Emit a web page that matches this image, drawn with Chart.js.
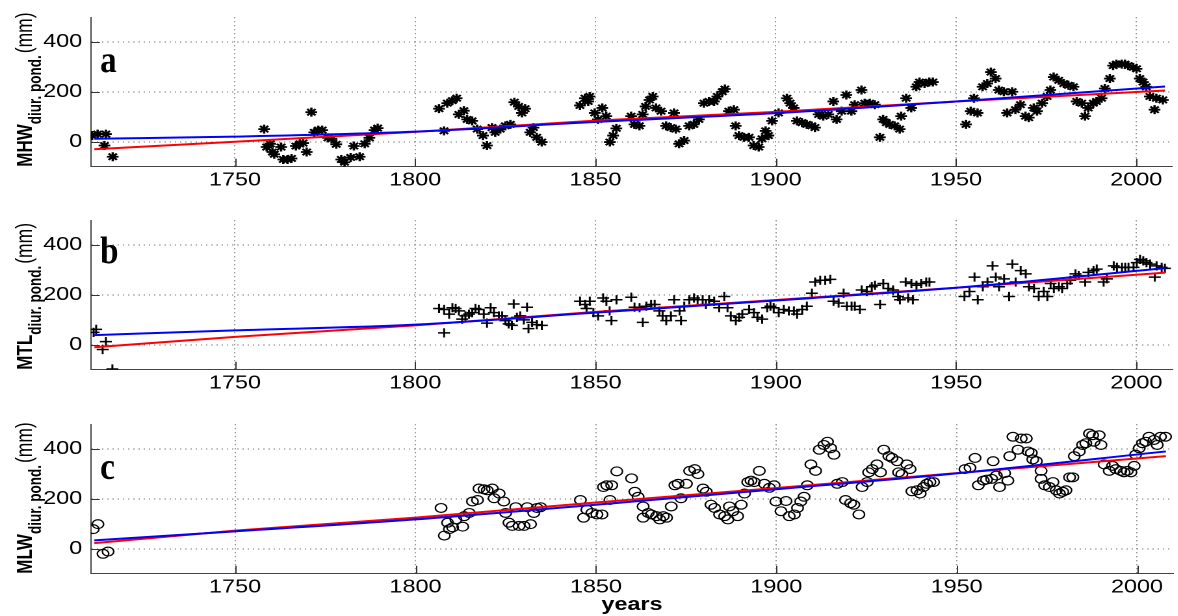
<!DOCTYPE html>
<html>
<head>
<meta charset="utf-8">
<title>MHW / MTL / MLW trends</title>
<script src="https://cdn.jsdelivr.net/npm/chart.js@4.4.0/dist/chart.umd.min.js"></script>
<style>
  body { margin: 0; background: #fff; }
  #wrap { position: relative; width: 1178px; height: 616px; overflow: hidden; }
  /* the original figure is stretched sideways, so each canvas is too */
  #wrap canvas { position: absolute; left: 0; transform: scaleX(1.3); transform-origin: 0 0; }
</style>
</head>
<body>
<div id="wrap">
  <canvas id="panelA" width="908" height="200" style="top:0px"></canvas>
  <canvas id="panelB" width="908" height="200" style="top:203px"></canvas>
  <canvas id="panelC" width="908" height="209" style="top:407px"></canvas>
</div>
<script>
/* axis ticks */
var xTicks = [1750, 1800, 1850, 1900, 1950, 2000];
var yTicks = [0, 200, 400];

/* years where the two fitted curves were read */
var fitYears = [1711, 1750, 1800, 1850, 1900, 1950, 2008];

/* a: MHW */
var mhwYears = [1710.4, 1711.9, 1713.8, 1714.2, 1716.1,
  1758.1, 1758.8, 1759.8, 1760.4, 1760.9, 1762.8, 1763.4, 1764.6, 1765.7, 1766.9, 1768.0, 1768.9, 1769.9,
  1771.2, 1772.0, 1773.1, 1774.2, 1775.8, 1776.8, 1778.1, 1779.5, 1780.4, 1782.1, 1783.0, 1784.6, 1786.0,
  1787.3, 1788.7, 1789.6,
  1806.6, 1808.0, 1808.9, 1810.3, 1811.5, 1812.1, 1813.5, 1814.4, 1815.8, 1817.2, 1818.8, 1819.9, 1821.3,
  1822.2, 1823.6, 1825.0, 1826.4, 1827.5, 1828.7, 1829.6, 1830.5, 1831.9, 1832.8, 1833.7, 1835.1,
  1845.7, 1847.1, 1848.0, 1848.4, 1849.8, 1850.7, 1851.9, 1853.0, 1854.0, 1854.9, 1855.8, 1859.9, 1860.8,
  1862.2, 1863.1, 1863.9, 1865.0, 1865.9, 1866.8, 1868.2, 1869.6, 1870.9, 1871.8, 1872.3, 1873.2, 1874.6,
  1876.0, 1877.3, 1878.7, 1880.1, 1881.5, 1882.9, 1883.8, 1885.2, 1885.9, 1887.0, 1888.4, 1888.9, 1889.8,
  1891.2, 1892.6, 1893.9, 1895.3, 1896.2, 1897.2, 1898.0, 1899.0,
  1900.8, 1903.1, 1904.0, 1905.0, 1905.9, 1907.3, 1908.6, 1910.0, 1910.9, 1911.9, 1913.2, 1914.6, 1916.0,
  1916.9, 1918.3, 1919.6, 1921.0, 1921.9, 1923.8, 1924.7, 1926.1, 1927.5, 1928.9, 1929.8, 1930.7, 1931.6,
  1933.0, 1934.4, 1934.8, 1936.2, 1937.6, 1939.0, 1939.9, 1941.3, 1942.6, 1943.6,
  1952.8, 1954.1, 1955.0, 1956.0, 1957.4, 1958.7, 1959.7, 1961.0, 1961.9, 1963.3, 1964.2, 1965.6, 1966.5,
  1967.9, 1969.3, 1970.2, 1971.6, 1972.5, 1973.9, 1975.3, 1976.2, 1977.1, 1978.5, 1979.9, 1981.2, 1982.6,
  1983.5, 1984.9, 1985.8, 1986.7, 1988.1, 1989.0, 1990.4, 1991.3, 1992.7, 1993.6, 1994.5, 1996.0, 1996.9,
  1997.8, 1999.2, 2000.1, 2001.0, 2001.9, 2002.8, 2003.8, 2005.1, 2005.6, 2007.4];
var mhwValues = [25, 31, -15, 31, -60,
  51, -21, -8, -41, -50, -21, -71, -71, -67, -17, -8, -5, -41,
  119, 38, 47, 47, 16, 12, -10, -71, -82, -63, -17, -60, -8,
  16, 47, 55,
  133, 44, 155, 165, 175, 110, 125, 90, 84, 51, 25, -15, 57,
  38, 51, 64, 70, 159, 142, 116, 133, 38, 57, 18, -1,
  146, 175, 162, 182, 116, 90, 136, 103, -1, 25, 54, 103, 70,
  64, 110, 142, 168, 182, 136, 123, 64, 57, 116, 51, -8, 5,
  64, 70, 90, 155, 162, 162, 182, 201, 212, 123, 129, 64, 25,
  18, 18, -15, -21, 12, 44, 25, 84,
  116, 175, 155, 136, 84, 77, 70, 64, 57, 110, 103, 110, 162,
  90, 123, 188, 123, 149, 208, 155, 155, 149, 18, 90, 77, 70,
  64, 51, 103, 175, 136, 221, 240, 234, 240, 240,
  70, 123, 175, 116, 221, 234, 280, 254, 208, 201, 116, 201, 129,
  149, 103, 97, 136, 123, 155, 182, 208, 260, 247, 234, 227, 221,
  162, 155, 103, 136, 155, 162, 175, 214, 254, 306, 312, 312, 312,
  306, 299, 293, 254, 240, 221, 182, 129, 175, 168];
var mhwLinear = [-30, 0, 40, 85, 120, 162, 206];
var mhwQuad = [12, 21, 41, 80, 115, 162, 222];

/* b: MTL */
var mtlYears = [1710.8, 1711.5, 1713.3, 1714.2, 1716.0,
  1806.6, 1808.0, 1808.0, 1809.4, 1810.3, 1811.2, 1812.1, 1813.0, 1813.9, 1814.9, 1815.8, 1816.7, 1817.6,
  1819.0, 1819.9, 1820.9, 1821.8, 1823.2, 1824.1, 1825.0, 1825.9, 1826.8, 1827.3, 1828.2, 1829.1, 1830.1,
  1831.0, 1831.4, 1832.4, 1833.7, 1835.1,
  1845.7, 1847.1, 1847.5, 1848.4, 1849.4, 1850.7, 1852.1, 1853.0, 1853.9, 1854.4, 1855.8, 1859.9, 1860.8,
  1862.2, 1863.1, 1864.1, 1865.4, 1866.4, 1867.7, 1868.6, 1869.6, 1870.9, 1871.8, 1873.3, 1873.7, 1874.6,
  1876.0, 1877.3, 1878.3, 1879.7, 1880.6, 1881.5, 1882.9, 1884.3, 1885.7, 1886.6, 1887.5, 1888.9, 1889.8,
  1890.7, 1892.6, 1893.9, 1894.9, 1896.2, 1897.6, 1898.5, 1899.4,
  1900.8, 1902.2, 1903.6, 1905.0, 1905.9, 1907.3, 1908.6, 1910.0, 1910.9, 1912.3, 1913.7, 1915.1, 1916.0,
  1917.4, 1918.8, 1919.7, 1921.0, 1921.9, 1923.3, 1923.8, 1925.2, 1926.6, 1927.5, 1928.9, 1929.8, 1931.2,
  1932.5, 1933.9, 1934.4, 1936.0, 1936.7, 1937.6, 1938.0, 1939.0, 1940.3, 1941.7, 1942.6,
  1952.3, 1953.7, 1955.1, 1956.0, 1957.4, 1958.7, 1960.1, 1961.0, 1961.9, 1963.3, 1964.7, 1965.6, 1966.5,
  1967.9, 1969.3, 1970.2, 1971.6, 1972.9, 1974.3, 1975.3, 1976.2, 1977.1, 1978.5, 1979.4, 1980.8, 1981.7,
  1983.1, 1984.0, 1985.8, 1986.7, 1988.1, 1989.0, 1990.9, 1991.8, 1993.7, 1994.6, 1996.0, 1996.9, 1997.8,
  1999.2, 2000.1, 2001.0, 2001.9, 2002.8, 2003.8, 2005.1, 2005.6, 2007.0, 2007.9];
var mtlValues = [50, 62, -19, 13, -97,
  146, 48, 142, 123, 149, 146, 136, 103, 116, 123, 129, 146, 142,
  123, 87, 149, 129, 116, 116, 97, 84, 78, 164, 110, 116, 100,
  151, 65, 90, 81, 78,
  175, 162, 146, 175, 129, 116, 188, 175, 136, 97, 181, 191, 151,
  149, 90, 155, 162, 162, 136, 116, 97, 116, 181, 136, 97, 155,
  181, 188, 181, 181, 162, 181, 175, 149, 194, 149, 116, 97, 110,
  123, 142, 129, 110, 103, 149, 155, 149,
  129, 142, 136, 136, 123, 142, 155, 207, 252, 259, 259, 263, 175,
  168, 207, 155, 155, 155, 142, 220, 214, 233, 239, 162, 246, 226,
  220, 194, 181, 252, 188, 246, 181, 239, 246, 252, 252,
  194, 214, 272, 181, 233, 252, 317, 272, 233, 265, 194, 324, 252,
  298, 285, 233, 226, 194, 214, 194, 246, 226, 233, 226, 246, 259,
  285, 278, 252, 291, 298, 304, 252, 265, 317, 311, 311, 311, 311,
  311, 330, 343, 337, 330, 324, 272, 317, 311, 307];
var mtlLinear = [-10, 32, 78, 132, 180, 229, 290];
var mtlQuad = [39, 58, 81, 129, 178, 229, 308];

/* c: MLW */
var mlwYears = [1710.7, 1712.0, 1713.4, 1714.8,
  1807.1, 1808.0, 1808.9, 1809.4, 1810.3, 1811.2, 1813.1, 1813.5, 1814.9, 1815.8, 1817.2, 1817.6, 1819.0,
  1819.9, 1821.3, 1821.8, 1823.2, 1824.5, 1825.0, 1825.9, 1826.8, 1827.8, 1828.7, 1830.1, 1831.0, 1831.9,
  1832.8, 1833.7, 1834.7,
  1845.7, 1846.6, 1847.5, 1848.9, 1850.3, 1851.7, 1852.1, 1853.0, 1853.9, 1854.4, 1855.8, 1859.9, 1860.8,
  1861.7, 1863.1, 1863.1, 1864.5, 1865.4, 1866.8, 1867.7, 1868.7, 1869.6, 1870.9, 1871.9, 1872.8, 1873.6,
  1875.1, 1876.0, 1877.4, 1878.3, 1879.7, 1880.6, 1881.9, 1882.9, 1884.3, 1885.7, 1886.6, 1887.0, 1888.0,
  1889.3, 1890.3, 1891.2, 1892.1, 1893.0, 1893.9, 1895.3, 1896.7, 1898.1, 1899.4, 1899.9,
  1901.3, 1902.7, 1903.6, 1905.0, 1905.9, 1906.8, 1907.7, 1908.6, 1909.6, 1910.9, 1911.9, 1913.2, 1914.2,
  1915.1, 1916.0, 1916.9, 1918.3, 1919.2, 1920.6, 1921.5, 1922.9, 1923.8, 1925.2, 1925.6, 1926.6, 1927.9,
  1928.9, 1929.8, 1931.2, 1932.1, 1933.5, 1933.9, 1934.8, 1936.2, 1937.1, 1937.6, 1939.0, 1939.9, 1940.8,
  1941.7, 1942.6, 1943.6,
  1952.3, 1953.7, 1955.1, 1956.0, 1957.4, 1958.3, 1959.7, 1960.1, 1961.0, 1961.9, 1963.3, 1964.2, 1964.7,
  1965.6, 1967.0, 1967.9, 1969.3, 1969.8, 1970.7, 1971.1, 1972.1, 1973.4, 1973.4, 1974.4, 1975.7, 1976.7,
  1977.6, 1978.5, 1979.4, 1980.3, 1981.3, 1982.2, 1982.6, 1984.0, 1984.9, 1985.8, 1986.8, 1987.7, 1988.1,
  1989.5, 1990.0, 1990.9, 1992.3, 1993.2, 1994.1, 1995.5, 1996.4, 1997.3, 1998.3, 1999.2, 1999.6, 2000.6,
  2001.5, 2002.4, 2003.3, 2004.7, 2005.6, 2006.5, 2007.9];
var mlwValues = [79, 99, -20, -11,
  164, 53, 105, 79, 86, 118, 89, 131, 144, 190, 196, 242, 239,
  235, 242, 203, 222, 190, 144, 105, 92, 167, 92, 92, 167, 99,
  144, 164, 167,
  196, 125, 157, 144, 138, 138, 248, 255, 196, 255, 311, 283, 229,
  209, 170, 125, 144, 138, 131, 118, 131, 125, 170, 255, 261, 203,
  261, 313, 320, 300, 242, 229, 177, 164, 138, 131, 118, 170, 151,
  131, 177, 222, 268, 274, 268, 313, 261, 245, 255, 190,
  151, 192, 131, 138, 164, 190, 209, 255, 339, 313, 398, 417, 430,
  404, 378, 261, 268, 196, 183, 177, 138, 248, 268, 307, 320, 339,
  307, 398, 372, 365, 352, 307, 300, 339, 320, 231, 235, 222, 248,
  261, 268, 268,
  320, 326, 365, 255, 274, 278, 281, 352, 294, 248, 304, 274, 372,
  450, 398, 443, 443, 391, 385, 359, 352, 313, 281, 255, 248, 268,
  235, 222, 229, 235, 287, 287, 372, 391, 417, 424, 463, 456, 430,
  456, 417, 339, 313, 333, 320, 313, 307, 313, 307, 333, 378, 404,
  424, 430, 450, 437, 417, 450, 450];
var mlwLinear = [23, 73, 125, 186, 244, 304, 372];
var mlwQuad = [34, 70, 118, 177, 239, 303, 391];

var plotTop = 14;       // chart area top inside each canvas
var plotHeight = 152.7; // chart area height
var axisLeft = 69.8;    // width of the y axis box (canvas units)
var sansFont = '"Liberation Sans", Arial, sans-serif';

function toPoints(xs, ys) {
    var pts = [];
    for (var i = 0; i < xs.length; i++) {
        pts.push({ x: xs[i], y: ys[i] });
    }
    return pts;
}

// draws inside tick marks, panel letter, y title and (last panel) the x title
var panelDecor = {
    id: 'panelDecor',
    afterDraw: function (chart, args, opts) {
        var ctx = chart.ctx;
        var area = chart.chartArea;
        var xs = chart.scales.x;
        var ys = chart.scales.y;
        ctx.save();

        // Matlab style tick marks pointing into the plot
        ctx.strokeStyle = '#333';
        ctx.lineWidth = 1;
        ctx.beginPath();
        xTicks.forEach(function (t) {
            var px = Math.round(xs.getPixelForValue(t)) + 0.5;
            ctx.moveTo(px, area.bottom);
            ctx.lineTo(px, area.bottom - 8);
        });
        yTicks.forEach(function (t) {
            var py = Math.round(ys.getPixelForValue(t)) + 0.5;
            ctx.moveTo(area.left, py);
            ctx.lineTo(area.left + 7, py);
        });
        ctx.stroke();

        // panel letter
        ctx.fillStyle = '#000';
        ctx.save();
        ctx.translate(77, opts.letterY);
        ctx.scale(0.67, 1);
        ctx.font = 'bold 38px "Liberation Serif", "Times New Roman", serif';
        ctx.textAlign = 'left';
        ctx.textBaseline = 'alphabetic';
        ctx.fillText(opts.letter, 0, 0);
        ctx.restore();

        // y title with subscript, rotated
        ctx.save();
        ctx.translate(24.5, area.bottom);
        ctx.rotate(-Math.PI / 2);
        ctx.textAlign = 'left';
        ctx.textBaseline = 'alphabetic';
        ctx.font = 'bold 17px ' + sansFont;
        ctx.fillText(opts.name, 0, 0);
        var w1 = ctx.measureText(opts.name).width;
        ctx.font = 'bold 13.5px ' + sansFont;
        ctx.fillText('diur. pond.', w1, 7);
        var w2 = ctx.measureText('diur. pond.').width;
        ctx.font = '17.5px ' + sansFont;
        ctx.fillText('(mm)', w1 + w2 + 2, 0);
        ctx.restore();

        if (opts.xTitle) {
            ctx.font = 'bold 18px ' + sansFont;
            ctx.textAlign = 'center';
            ctx.textBaseline = 'alphabetic';
            ctx.fillText(opts.xTitle, (area.left + area.right) / 2, opts.xTitleY);
        }
        ctx.restore();
    }
};

function makePanel(canvasId, years, values, marker, linear, quad, decor) {
    var canvas = document.getElementById(canvasId);
    var ctx = canvas.getContext('2d');
    var canvasHeight = canvas.height;
    var markerSize = { star: 4.5, cross: 4.6, circle: 4.4 };
    var markerWidth = { star: 1.8, cross: 1.5, circle: 1.2 };

    return new Chart(ctx, {
        type: 'scatter',
        data: {
            datasets: [{
                // quadratic fit
                data: toPoints(fitYears, quad),
                showLine: true,
                borderColor: '#0000ff',
                borderWidth: 2,
                pointRadius: 0,
                cubicInterpolationMode: 'monotone',
                order: 1
            }, {
                // linear fit
                data: toPoints(fitYears, linear),
                showLine: true,
                borderColor: '#ff0000',
                borderWidth: 2,
                pointRadius: 0,
                order: 2
            }, {
                data: toPoints(years, values),
                showLine: false,
                pointStyle: marker,
                pointRadius: markerSize[marker],
                pointBorderWidth: markerWidth[marker],
                borderColor: '#000',
                backgroundColor: 'rgba(0,0,0,0)',
                order: 3
            }]
        },
        options: {
            responsive: false,
            devicePixelRatio: 2,
            animation: false,
            events: [],
            layout: {
                padding: { top: plotTop, right: 0, bottom: 0, left: 0 }
            },
            scales: {
                x: {
                    type: 'linear',
                    min: 1710,
                    max: 2010,
                    afterBuildTicks: function (scale) {
                        scale.ticks = xTicks.map(function (v) { return { value: v }; });
                    },
                    afterFit: function (scale) {
                        scale.height = canvasHeight - plotTop - plotHeight;
                    },
                    ticks: {
                        color: '#000',
                        padding: 3,
                        maxRotation: 0,
                        font: { family: sansFont, size: 18 },
                        callback: function (v) { return String(v); }
                    },
                    grid: {
                        color: '#777',
                        lineWidth: 1,
                        drawTicks: false
                    },
                    border: {
                        display: true,
                        color: '#444',
                        width: 1,
                        dash: [1, 3]
                    }
                },
                y: {
                    type: 'linear',
                    min: -100,
                    max: 500,
                    afterBuildTicks: function (scale) {
                        scale.ticks = yTicks.map(function (v) { return { value: v }; });
                    },
                    afterFit: function (scale) {
                        scale.width = axisLeft;
                    },
                    ticks: {
                        color: '#000',
                        padding: 6.5,
                        font: { family: sansFont, size: 18 },
                        callback: function (v) { return String(v); }
                    },
                    grid: {
                        color: '#777',
                        lineWidth: 1,
                        drawTicks: false
                    },
                    border: {
                        display: true,
                        color: '#444',
                        width: 1,
                        dash: [1, 3]
                    }
                }
            },
            plugins: {
                legend: { display: false },
                tooltip: { enabled: false },
                panelDecor: decor
            }
        },
        plugins: [panelDecor]
    });
}

document.addEventListener('DOMContentLoaded', function () {
    makePanel('panelA', mhwYears, mhwValues, 'star', mhwLinear, mhwQuad,
        { letter: 'a', letterY: 72, name: 'MHW' });
    makePanel('panelB', mtlYears, mtlValues, 'cross', mtlLinear, mtlQuad,
        { letter: 'b', letterY: 60, name: 'MTL' });
    makePanel('panelC', mlwYears, mlwValues, 'circle', mlwLinear, mlwQuad,
        { letter: 'c', letterY: 72, name: 'MLW', xTitle: 'years', xTitleY: 203 });
});
</script>
</body>
</html>
